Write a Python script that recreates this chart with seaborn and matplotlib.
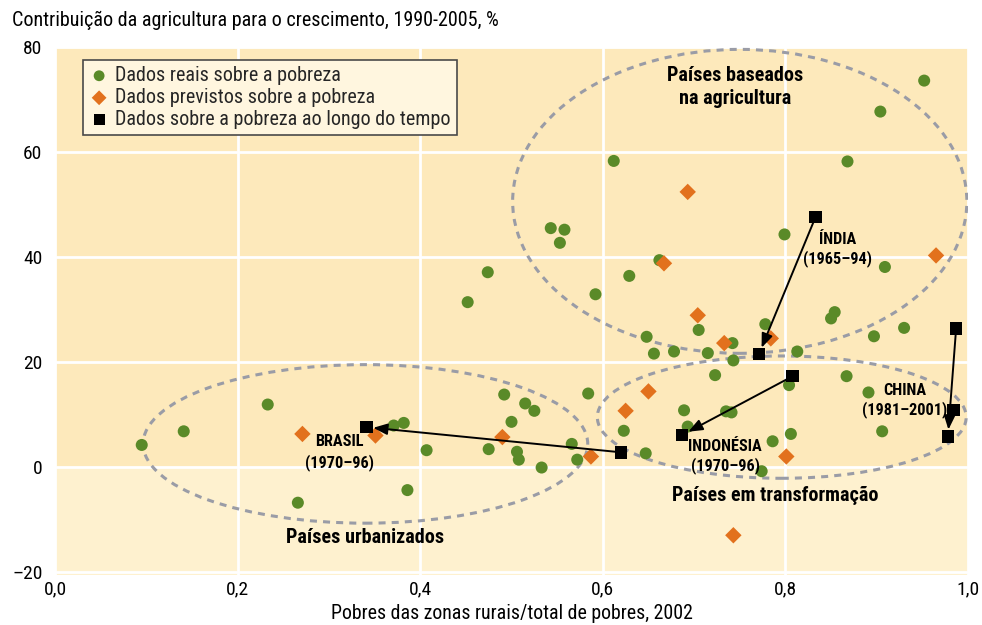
import matplotlib
matplotlib.use("Agg")
import matplotlib.pyplot as plt
import seaborn as sns
import pandas as pd
from matplotlib import font_manager
from matplotlib.patches import Ellipse

# ---- data ----
real_x = [0.095, 0.141, 0.233, 0.266, 0.371, 0.382, 0.386, 0.407, 0.452, 0.474,
          0.475, 0.492, 0.500, 0.506, 0.508, 0.515, 0.525, 0.533, 0.543, 0.553,
          0.558, 0.566, 0.572, 0.584, 0.592, 0.612, 0.623, 0.629, 0.647, 0.648,
          0.656, 0.662, 0.678, 0.689, 0.693, 0.705, 0.715, 0.723, 0.735, 0.741,
          0.742, 0.743, 0.774, 0.778, 0.786, 0.799, 0.804, 0.806, 0.813, 0.850,
          0.854, 0.867, 0.868, 0.891, 0.897, 0.904, 0.906, 0.909, 0.930, 0.952]
real_y = [4.2, 6.8, 11.9, -6.8, 7.9, 8.4, -4.4, 3.2, 31.4, 37.1,
          3.4, 13.8, 8.6, 2.9, 1.4, 12.1, 10.7, -0.1, 45.5, 42.7,
          45.2, 4.4, 1.4, 14.0, 32.9, 58.3, 6.9, 36.4, 2.6, 24.8,
          21.6, 39.4, 22.0, 10.8, 7.7, 26.1, 21.7, 17.5, 10.6, 10.4,
          23.6, 20.3, -0.8, 27.2, 4.9, 44.3, 15.6, 6.3, 22.0, 28.3,
          29.5, 17.3, 58.2, 14.2, 24.9, 67.7, 6.8, 38.1, 26.5, 73.6]

prev_x = [0.271, 0.351, 0.490, 0.587, 0.625, 0.650, 0.667, 0.693, 0.704, 0.733,
          0.743, 0.784, 0.801, 0.965]
prev_y = [6.3, 6.0, 5.7, 2.0, 10.7, 14.4, 38.8, 52.4, 28.9, 23.6,
          -13.0, 24.5, 2.0, 40.3]

# poverty over time (first point -> last point)
brasil_x, brasil_y = [0.620, 0.341], [2.8, 7.6]
indonesia_x, indonesia_y = [0.808, 0.687], [17.3, 6.1]
india_x, india_y = [0.833, 0.771], [47.6, 21.5]
china_x, china_y = [0.987, 0.984, 0.978], [26.4, 10.9, 5.8]

x_ticks = [0.0, 0.2, 0.4, 0.6, 0.8, 1.0]
x_tick_labels = ["0,0", "0,2", "0,4", "0,6", "0,8", "1,0"]
y_ticks = [-20, 0, 20, 40, 60, 80]
y_tick_labels = ["\u201320", "0", "20", "40", "60", "80"]

legend_labels = ["Dados reais sobre a pobreza",
                 "Dados previstos sobre a pobreza",
                 "Dados sobre a pobreza ao longo do tempo"]

# ---- style ----
sns.set_theme(style="white")
names = {f.name for f in font_manager.fontManager.ttflist}
fam = next((n for n in ["Liberation Sans Narrow", "Roboto Condensed",
                        "Open Sans Condensed", "Liberation Sans", "DejaVu Sans"]
            if n in names), "DejaVu Sans")
plt.rcParams["font.family"] = [fam, "DejaVu Sans"]

GREEN = "#5a8a28"
ORANGE = "#e2711d"
BG_TOP = "#fde9bb"
BG_BOT = "#fef1cf"

fig = plt.figure(figsize=(9.82, 6.25), dpi=100)
ax = fig.add_axes([55 / 982, 1 - 575 / 625, 913 / 982, 528 / 625])
ax.set_xlim(0, 1.0)
ax.set_ylim(-20.57, 79.62)
ax.set_facecolor(BG_BOT)
ax.axhspan(0, 79.62, color=BG_TOP, zorder=0.1, lw=0)
ax.set_axisbelow(True)
ax.grid(True, color="white", lw=2)
for s in ax.spines.values():
    s.set_visible(False)

# ellipses
ell_style = dict(fill=False, ec="#9a9ca6", lw=2.2, ls=(0, (2.3, 2.0)), zorder=2)
ax.add_patch(Ellipse((0.750, 50.6), 0.4975, 57.9, **ell_style))
ax.add_patch(Ellipse((0.340, 4.4), 0.487, 30.2, **ell_style))
ax.add_patch(Ellipse((0.796, 9.5), 0.404, 23.3, **ell_style))

# scatter
sns.scatterplot(x=real_x, y=real_y, color=GREEN, s=75, marker="o",
                edgecolor="none", ax=ax, label=legend_labels[0], zorder=4)
sns.scatterplot(x=prev_x, y=prev_y, color=ORANGE, s=70, marker="D",
                edgecolor="none", ax=ax, label=legend_labels[1], zorder=5)
time_x = brasil_x + indonesia_x + india_x + china_x
time_y = brasil_y + indonesia_y + india_y + china_y
sns.scatterplot(x=time_x, y=time_y, color="black", s=80, marker="s",
                edgecolor="none", ax=ax, label=legend_labels[2], zorder=6)

for xs, ys in [(brasil_x, brasil_y), (indonesia_x, indonesia_y),
               (india_x, india_y), (china_x, china_y)]:
    ax.annotate("", xy=(xs[-1], ys[-1]), xytext=(xs[0], ys[0]),
                arrowprops=dict(arrowstyle="-|>,head_length=0.7,head_width=0.28",
                                color="black", lw=1.4, shrinkA=0, shrinkB=5),
                zorder=7)

# text labels
big = dict(fontsize=14.5, fontweight="bold", ha="center", va="center", color="black", zorder=8)
small = dict(fontsize=11.7, fontweight="bold", ha="center", va="center", color="black", zorder=8)
ax.text(0.745, 72.4, "Países baseados\nna agricultura", linespacing=1.25, **big)
ax.text(0.340, -13.4, "Países urbanizados", **big)
ax.text(0.789, -5.4, "Países em transformação", **big)
ax.text(0.312, 4.9, "BRASIL", **small)
ax.text(0.312, 0.9, "(1970\u201396)", **small)
ax.text(0.734, 4.0, "INDONÉSIA", **small)
ax.text(0.734, 0.3, "(1970\u201396)", **small)
ax.text(0.857, 43.3, "ÍNDIA", **small)
ax.text(0.857, 39.8, "(1965\u201394)", **small)
ax.text(0.931, 14.5, "CHINA", **small)
ax.text(0.931, 10.9, "(1981\u20132001)", **small)

# axes
ax.set_xticks(x_ticks)
ax.set_xticklabels(x_tick_labels, fontsize=14)
ax.set_yticks(y_ticks)
ax.set_yticklabels(y_tick_labels, fontsize=14)
ax.tick_params(axis="both", length=0, colors="black")
ax.tick_params(axis="y", pad=9)
ax.tick_params(axis="x", pad=4)
ax.set_xlabel("Pobres das zonas rurais/total de pobres, 2002", fontsize=14.3,
              color="black", labelpad=4)
ax.set_ylabel("")
fig.text(12 / 982, 1 - 20 / 625,
         "Contribuição da agricultura para o crescimento, 1990-2005, %",
         fontsize=14.5, ha="left", va="center", color="black")

leg = ax.legend(loc="upper left", bbox_to_anchor=((83 - 55) / 913, 1 - (60 - 47) / 528),
                fontsize=14.5, frameon=True, fancybox=False, framealpha=1,
                facecolor="#fff6df", edgecolor="#4a4a4a", handletextpad=0.3,
                handlelength=1.0, borderpad=0.3, labelspacing=0.15,
                borderaxespad=0, markerscale=0.9)
leg.get_frame().set_linewidth(1.2)
leg.set_zorder(10)

fig.savefig("out.png", dpi=100)
